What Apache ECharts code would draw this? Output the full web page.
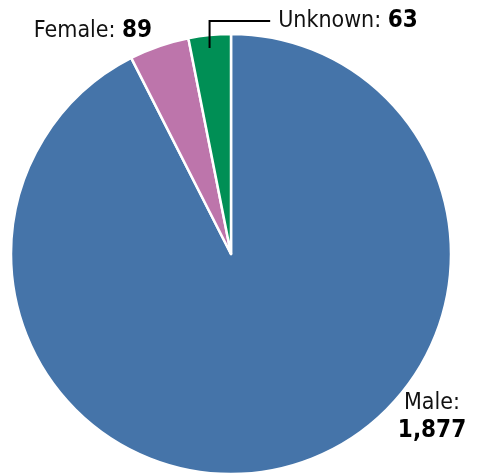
<!DOCTYPE html>
<html><head><meta charset="utf-8">
<script src="https://cdn.jsdelivr.net/npm/echarts@6/dist/echarts.min.js"></script>
<style>html,body{margin:0;padding:0;background:#fff}#c{width:478px;height:474px}</style>
</head><body><div id="c"></div>
<script>
const categories = ['Male', 'Female', 'Unknown'];
const values = [1877, 89, 63];
const colors = ['#4574a9', '#bd75ab', '#008f55'];
const FONT = "'Liberation Sans Narrow', 'DejaVu Sans Condensed', 'Roboto', sans-serif";

const labelPos = {
  Male: {x: 432, y: 417},
  Female: {x: 93, y: 31},
  Unknown: {x: 348, y: 21}
};

const chart = echarts.init(document.getElementById('c'), null, {renderer: 'canvas'});
const fmt = v => v.toLocaleString('en-US');
chart.setOption({
  animation: false,
  series: [{
    type: 'pie',
    center: [231, 254],
    radius: [0, 220],
    startAngle: 90,
    clockwise: true,
    itemStyle: {borderColor: '#fff', borderWidth: 2.5},
    labelLine: {show: false},
    data: categories.map((c, i) => ({
      name: c, value: values[i],
      itemStyle: {color: colors[i]}
    })),
    label: {
      show: true,
      position: 'outside',
      overflow: 'none',
      fontFamily: FONT,
      fontSize: 23,
      color: '#111',
      formatter: p => p.name === 'Male'
        ? '{a|Male:}\n{b|' + fmt(p.value) + '}'
        : '{a|' + p.name + ': }{b|' + fmt(p.value) + '}',
      rich: {
        a: {fontFamily: FONT, fontSize: 23, color: '#111', lineHeight: 27},
        b: {fontFamily: FONT, fontSize: 24, fontWeight: 'bold', color: '#000', lineHeight: 27}
      }
    },
    labelLayout: function (p) {
      const pos = labelPos[categories[p.dataIndex]];
      return {x: pos.x, y: pos.y, align: 'center', verticalAlign: 'middle'};
    }
  }]
});

// Leader line for "Unknown", derived from the slice layout computed by ECharts
const data = chart.getModel().getSeriesByIndex(0).getData();
const idx = categories.indexOf('Unknown');
const lay = data.getItemLayout(idx);
const mid = (lay.startAngle + lay.endAngle) / 2;
const lx = lay.cx + lay.r * Math.cos(mid);
const innerY = lay.cy + (lay.r - 13) * Math.sin(mid);
const el = data.getItemGraphicEl(idx);
let labelLeft = labelPos.Unknown.x - 70;
if (el && el.getTextContent()) {
  const r = el.getTextContent().getBoundingRect();
  const t = el.getTextContent();
  labelLeft = t.x + r.x - 8;
}
chart.setOption({
  graphic: [{
    type: 'polyline', z: 100,
    shape: {points: [[lx, innerY], [lx, labelPos.Unknown.y], [labelLeft, labelPos.Unknown.y]]},
    style: {stroke: '#000', lineWidth: 2, fill: null}
  }]
});
</script>
</body></html>
